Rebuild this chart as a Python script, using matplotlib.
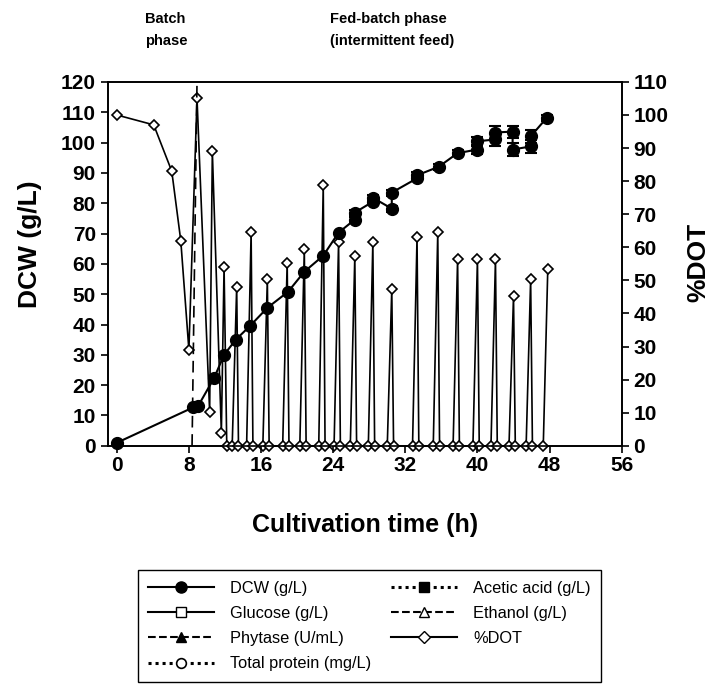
import matplotlib
matplotlib.use("Agg")
import matplotlib.pyplot as plt
from matplotlib.lines import Line2D

plt.rcParams['font.family'] = ['Liberation Sans', 'DejaVu Sans']

# DCW (g/L) - two readings at some sampling times (before/after feed)
dcw_t = [0, 8.5, 9.0, 10.8, 11.9, 13.2, 14.8, 16.7, 19.0, 20.8, 22.9, 24.6,
         26.4, 26.4, 28.4, 28.4, 30.5, 30.5, 33.3, 33.3, 35.7, 37.8,
         40.0, 40.0, 41.9, 41.9, 43.9, 43.9, 45.9, 45.9, 47.7]
dcw = [1.0, 12.7, 13.0, 22.4, 30.0, 35.0, 39.6, 45.5, 50.8, 57.4, 62.7, 70.3,
       74.6, 76.9, 80.5, 81.8, 78.2, 83.5, 88.2, 89.2, 92.0, 96.5,
       97.7, 100.4, 101.0, 103.3, 103.6, 97.7, 98.7, 102.0, 108.2]
dcw_err = [0, 0, 0, 0, 0, 0, 0, 0, 0, 0, 0, 0,
           1.0, 1.0, 1.0, 1.0, 1.0, 1.0, 1.0, 1.0, 1.0, 1.0,
           1.5, 1.5, 2.0, 2.0, 2.0, 2.0, 2.0, 2.0, 1.0]

# %DOT
dot_t = [0, 4.1, 6.1, 7.1, 8.0, 8.9, 10.3, 10.6, 11.6, 11.9,
         12.2, 12.8, 13.3, 13.5, 14.4, 14.9, 15.1, 16.2, 16.7,
         16.9, 18.4, 18.9, 19.1, 20.3, 20.8, 21.0, 22.4, 22.9,
         23.1, 24.1, 24.6, 24.8, 25.9, 26.4, 26.6, 27.9, 28.4,
         28.6, 30.0, 30.5, 30.7, 32.8, 33.3, 33.5, 35.1, 35.6,
         35.8, 37.3, 37.8, 38.0, 39.5, 40.0, 40.2, 41.5, 42.0,
         42.2, 43.5, 44.0, 44.2, 45.4, 45.9, 46.1, 47.3, 47.8]
dot = [100, 97, 83, 62, 29, 105, 10.3, 89, 4, 54,
       0, 0, 48, 0, 0, 64.5, 0, 0, 50.3,
       0, 0, 55.4, 0, 0, 59.4, 0, 0, 78.8,
       0, 0, 61.5, 0, 0, 57.3, 0, 0, 61.5,
       0, 0, 47.3, 0, 0, 63.0, 0, 0, 64.5,
       0, 0, 56.4, 0, 0, 56.4, 0, 0, 56.4,
       0, 0, 45.2, 0, 0, 50.3, 0, 0, 53.3]

# batch / fed-batch boundary
phase_t = [8.35, 8.9]
phase_y = [0, 120]

fig = plt.figure(figsize=(7.28, 6.88), dpi=100)
ax = fig.add_axes([0.148, 0.352, 0.706, 0.529])
ax2 = ax.twinx()

ax.plot(phase_t, phase_y, color='k', ls='--', dashes=(7, 4), lw=1.2, zorder=2)
ax.errorbar(dcw_t, dcw, yerr=dcw_err, color='k', marker='o', ms=8.5, lw=1.5,
            capsize=4, elinewidth=1.2, capthick=1.5, zorder=4, clip_on=False)
ax2.plot(dot_t, dot, color='k', marker='D', ms=5.5, mfc='white', mec='k',
         mew=1.2, lw=1.2, zorder=3, clip_on=False)

ax.set_zorder(ax2.get_zorder() + 1)
ax.patch.set_visible(False)

ax.set_xlim(-1, 56)
ax.set_ylim(0, 120)
ax2.set_ylim(0, 110)
ax.set_xticks(range(0, 57, 8))
ax.set_yticks(range(0, 121, 10))
ax2.set_yticks(range(0, 111, 10))

for a in (ax, ax2):
    a.tick_params(direction='out', length=5, width=1.2, labelsize=15)
    for lab in a.get_xticklabels() + a.get_yticklabels():
        lab.set_fontweight('bold')
    for s in a.spines.values():
        s.set_linewidth(1.2)
ax.tick_params(axis='x', pad=2.5)

ax.set_ylabel('DCW (g/L)', fontsize=19, fontweight='bold')
ax.yaxis.set_label_coords(-0.128, 0.555)
ax2.set_ylabel('%DOT', fontsize=19, fontweight='bold', rotation=90)
ax2.yaxis.set_label_coords(1.125, 0.505)
ax.set_xlabel('Cultivation time (h)', fontsize=18, fontweight='bold')
ax.xaxis.set_label_coords(0.5, -0.185)

fig.text(145 / 728, 1 - 12 / 688, 'Batch\nphase', fontsize=10.5,
         fontweight='bold', va='top', ha='left', linespacing=1.75)
fig.text(330 / 728, 1 - 12 / 688, 'Fed-batch phase\n(intermittent feed)',
         fontsize=10.5, fontweight='bold', va='top', ha='left', linespacing=1.75)

handles = [
    Line2D([], [], color='k', ls='-', marker='o', ms=8, mfc='k'),
    Line2D([], [], color='k', ls='-', marker='s', ms=7, mfc='white'),
    Line2D([], [], color='k', ls='--', marker='^', ms=7, mfc='k'),
    Line2D([], [], color='k', ls=(0, (1, 1.3)), lw=2.2, marker='o', ms=7, mfc='white', mew=1.2),
    Line2D([], [], color='k', ls=(0, (1, 1.3)), lw=2.2, marker='s', ms=7, mfc='k'),
    Line2D([], [], color='k', ls='--', marker='^', ms=7, mfc='white'),
    Line2D([], [], color='k', ls='-', marker='D', ms=6, mfc='white'),
]
labels = ['DCW (g/L)', 'Glucose (g/L)', 'Phytase (U/mL)', 'Total protein (mg/L)',
          'Acetic acid (g/L)', 'Ethanol (g/L)', '%DOT']
leg = fig.legend(handles, labels, ncol=2, loc='center',
                 bbox_to_anchor=(0.5076, 0.090), fontsize=11.8,
                 handlelength=4.0, handletextpad=1.0, columnspacing=1.2,
                 labelspacing=0.62, fancybox=False, framealpha=1,
                 borderpad=0.65)
leg.get_frame().set_edgecolor('k')
leg.get_frame().set_linewidth(1.0)

fig.savefig('out.png', dpi=100)
